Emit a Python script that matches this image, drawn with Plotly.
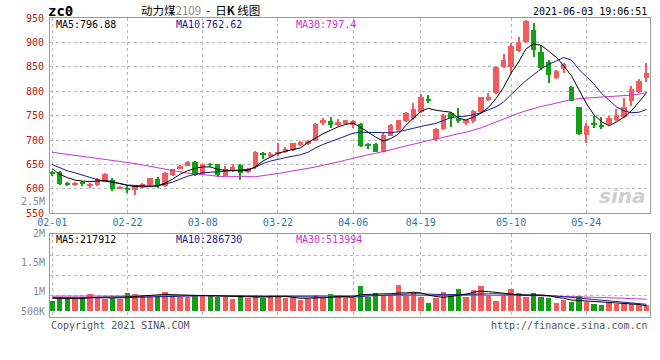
import plotly.graph_objects as go

# ---------------- data ----------------
tick_idx = [0, 10, 20, 30, 40, 49, 61, 71]
tick_labels = ["02-01", "02-22", "03-08", "03-22", "04-06", "04-19", "05-10", "05-24"]

opens = [633, 634, 610, 607, 613, 607, 608, 615, 619, 600,
         600, 598, 603, 607, 620, 605, 628, 642, 647, 656,
         631, 650, 650, 627, 639, 648, 635, 645, 674, 669,
         671, 675, 680, 690, 691, 699, 734, 739, 730, 733,
         731, 733, 690, 692, 676, 709, 721, 740, 745, 758,
         785, 702, 722, 755, 745, 734, 739, 757, 782, 797,
         849, 849, 883, 900, 926, 881, 859, 828, 846, 808,
         767, 711, 734, 729, 733, 741, 748, 781, 799, 828]
highs = [637, 636, 614, 614, 617, 612, 622, 632, 622, 606,
         605, 607, 613, 623, 624, 635, 641, 648, 657, 657,
         652, 653, 651, 647, 650, 652, 643, 677, 675, 676,
         695, 685, 694, 698, 700, 734, 745, 747, 744, 742,
         742, 735, 695, 693, 714, 733, 742, 758, 775, 795,
         792, 724, 753, 757, 765, 742, 762, 789, 797, 851,
         876, 898, 912, 946, 939, 894, 863, 844, 857, 810,
         768, 734, 750, 747, 750, 764, 786, 810, 826, 857]
lows = [627, 608, 606, 605, 605, 601, 606, 614, 595, 599,
        591, 587, 602, 606, 602, 604, 627, 640, 646, 627,
        630, 645, 625, 626, 634, 618, 633, 641, 662, 666,
        667, 673, 678, 688, 689, 698, 731, 724, 728, 731,
        724, 686, 682, 675, 675, 708, 719, 738, 742, 756,
        775, 699, 720, 727, 734, 731, 734, 755, 780, 795,
        847, 837, 881, 898, 871, 844, 816, 826, 837, 780,
        711, 695, 725, 723, 731, 739, 745, 770, 797, 818]
closes = [632, 610, 609, 612, 612, 611, 621, 631, 599, 604,
          599, 606, 611, 622, 606, 632, 640, 646, 655, 629,
          651, 649, 628, 640, 645, 632, 641, 675, 671, 671,
          676, 681, 693, 696, 698, 733, 741, 730, 736, 741,
          740, 688, 688, 676, 710, 731, 741, 755, 763, 788,
          782, 722, 751, 745, 739, 741, 760, 788, 789, 849,
          864, 893, 901, 944, 885, 847, 834, 842, 855, 781,
          712, 728, 732, 728, 746, 752, 767, 805, 820, 837]

ma5 = [641, 630, 623, 618, 616, 615, 616, 617, 615, 611,
       607, 605, 604, 605, 606, 612, 620, 630, 637, 642,
       645, 645, 640, 638, 637, 637, 638, 645, 657, 665,
       673, 677, 680, 684, 695, 704, 713, 720, 727, 732,
       735, 726, 716, 706, 698, 703, 712, 730, 745, 759,
       765, 761, 759, 757, 745, 741, 747, 755, 767, 785,
       808, 837, 860, 887, 897, 894, 882, 870, 852, 832,
       804, 775, 752, 738, 729, 737, 747, 760, 778, 796.88]
ma10 = [650, 643, 637, 633, 628, 623, 619, 616, 613, 610,
        608, 607, 606, 606, 606, 610, 614, 620, 626, 630,
        633, 634, 635, 637, 638, 639, 640, 644, 652, 657,
        661, 664, 667, 670, 675, 684, 691, 697, 702, 708,
        714, 716, 716, 715, 715, 715, 717, 720, 724, 728,
        731, 734, 740, 746, 748, 749, 752, 756, 762, 768,
        778, 794, 808, 822, 834, 846, 855, 862, 869, 864,
        845, 830, 815, 796, 781, 768, 760, 756, 757, 762.62]
ma30 = [675, 673, 671, 669, 667, 665, 663, 660, 658, 656,
        654, 652, 649, 646, 643, 640, 637, 634, 632, 631,
        629, 627, 626, 625, 625, 625, 625, 625, 627, 629,
        632, 634, 637, 639, 642, 645, 648, 651, 655, 659,
        663, 667, 670, 673, 676, 680, 684, 688, 692, 695,
        699, 702, 706, 709, 713, 716, 720, 725, 731, 737,
        743, 750, 755, 760, 765, 769, 772, 776, 780, 783,
        785, 786, 787, 787.5, 788, 789, 790, 792, 794, 797.4]

volumes = [450, 558, 527, 527, 630, 752, 603, 527, 558, 527,
           810, 752, 707, 675, 675, 842, 707, 603, 630, 707,
           707, 707, 630, 630, 513, 707, 558, 707, 555, 705,
           705, 555, 555, 480, 510, 705, 555, 750, 675, 555,
           555, 1110, 600, 780, 675, 675, 1155, 705, 855, 630,
           330, 555, 855, 750, 960, 630, 930, 1110, 660, 435,
           705, 960, 780, 630, 780, 600, 555, 330, 480, 405,
           660, 405, 300, 255, 405, 300, 300, 300, 255, 255]  # thousands
vol_ma5 = [560, 560, 550, 545, 540, 590, 610, 610, 610, 600,
           620, 640, 660, 690, 720, 735, 720, 700, 690, 690,
           680, 670, 670, 670, 640, 640, 610, 620, 610, 630,
           650, 650, 600, 560, 560, 570, 560, 600, 650, 650,
           620, 720, 740, 740, 760, 760, 800, 800, 830, 800,
           700, 640, 600, 640, 690, 740, 830, 880, 860, 820,
           780, 760, 710, 700, 710, 710, 680, 600, 560, 480,
           460, 440, 420, 400, 380, 340, 320, 300, 280, 217.912]
vol_ma10 = [590, 585, 580, 575, 570, 575, 580, 585, 580, 575,
            590, 600, 610, 630, 650, 660, 665, 670, 670, 670,
            680, 680, 680, 680, 680, 670, 660, 650, 640, 635,
            640, 640, 630, 620, 610, 600, 600, 600, 600, 610,
            610, 650, 660, 680, 700, 700, 720, 740, 760, 760,
            740, 730, 720, 720, 740, 740, 740, 760, 760, 760,
            750, 740, 740, 730, 720, 700, 680, 660, 630, 600,
            570, 540, 500, 460, 420, 390, 360, 330, 310, 286.73]
vol_ma30 = [655, 655, 655, 655, 655, 656, 657, 658, 658, 658,
            660, 662, 664, 665, 666, 667, 668, 668, 668, 668,
            668, 668, 668, 667, 666, 665, 664, 663, 662, 661,
            660, 660, 660, 660, 660, 660, 661, 662, 663, 664,
            665, 668, 670, 672, 674, 676, 678, 680, 682, 683,
            683, 683, 684, 685, 686, 688, 690, 692, 693, 693,
            692, 690, 688, 684, 680, 672, 664, 655, 645, 635,
            625, 612, 600, 590, 580, 570, 560, 545, 530, 513.994]

price_ticks = [550, 600, 650, 700, 750, 800, 850, 900, 950]
vol_tick_labels = ["2.5M", "2M", "1.5M", "1M", "500K"]

# ---------------- styling ----------------
W, H = 660, 360
RED = "#f25c5c"
GREEN = "#14a014"
MONO = "DejaVu Sans Mono, Liberation Mono, monospace"


def px_x(p):
    return p / W


def px_y(p):
    return 1 - p / H


x = list(range(len(closes)))
colors = [RED if c >= o else GREEN for o, c in zip(opens, closes)]
body_base = [min(o, c) for o, c in zip(opens, closes)]
body_len = [max(abs(c - o), 1.6) for o, c in zip(opens, closes)]
wick_len = [h - l for h, l in zip(highs, lows)]
vol_units = [v * 1000 for v in volumes]

fig = go.Figure()
# wicks
fig.add_trace(go.Bar(x=x, y=wick_len, base=lows, width=0.15,
                     marker=dict(color=colors, line=dict(width=0)),
                     xaxis="x", yaxis="y", hoverinfo="skip"))
# bodies
fig.add_trace(go.Bar(x=x, y=body_len, base=body_base, width=0.72,
                     marker=dict(color=colors, line=dict(width=0)),
                     xaxis="x", yaxis="y"))
for arr, col in [(ma30, "#cc33cc"), (ma10, "#1a1a90"), (ma5, "#000000")]:
    fig.add_trace(go.Scatter(x=x, y=arr, mode="lines",
                             line=dict(color=col, width=1),
                             xaxis="x", yaxis="y"))
# volume
fig.add_trace(go.Bar(x=x, y=vol_units, width=0.72,
                     marker=dict(color=colors, line=dict(width=0)),
                     xaxis="x2", yaxis="y2"))
for arr, col in [(vol_ma30, "#cc33cc"), (vol_ma10, "#1a1a90"), (vol_ma5, "#000000")]:
    fig.add_trace(go.Scatter(x=x, y=[v * 1000 for v in arr], mode="lines",
                             line=dict(color=col, width=1),
                             xaxis="x2", yaxis="y2"))

xdom = [50 / W, 649.5 / W]
price_dom = [px_y(213.3), px_y(18)]
vol_dom = [px_y(317.3), px_y(234)]
# volume scale: 0 at 310.7px, 45K per px
vol_range = [-(317.3 - 310.7) * 45000, (310.7 - 234) * 45000]
vol_grid = [(310.7 - y) * 45000 for y in (255.7, 275.7, 295.7)]

axis_common = dict(showline=True, linecolor="#9a9a9a", linewidth=1, mirror=True,
                   showgrid=True, gridcolor="#b8b8b8", griddash="dot", gridwidth=1,
                   zeroline=False, ticks="", automargin=False)

fig.update_layout(
    width=W, height=H, margin=dict(l=0, r=0, t=0, b=0, autoexpand=False),
    paper_bgcolor="white", plot_bgcolor="white",
    showlegend=False, barmode="overlay", bargap=0,
    xaxis=dict(domain=xdom, range=[-0.3, 79.4], anchor="y",
               tickmode="array", tickvals=tick_idx, ticktext=tick_labels,
               tickfont=dict(family=MONO, size=10, color="#1f78b4"),
               **axis_common),
    xaxis2=dict(domain=xdom, range=[-0.3, 79.4], anchor="y2", matches="x",
                tickmode="array", tickvals=tick_idx, showticklabels=False,
                **axis_common),
    yaxis=dict(domain=price_dom, range=[550, 950], anchor="x",
               tickmode="array", tickvals=price_ticks,
               ticktext=[str(v) for v in price_ticks],
               tickfont=dict(family=MONO, size=10, color="#b02020"),
               ticklabelstandoff=3, **axis_common),
    yaxis2=dict(domain=vol_dom, range=vol_range, anchor="x2",
                tickmode="array", tickvals=vol_grid, showticklabels=False,
                **axis_common),
)

ann = []


def text(xp, yp, s, color="#000", size=10, anchor="left", family=MONO, **kw):
    ann.append(dict(x=px_x(xp), y=px_y(yp), xref="paper", yref="paper",
                    text=s, showarrow=False, xanchor=anchor, yanchor="middle",
                    align=anchor if anchor in ("left", "right") else "center",
                    borderpad=0,
                    font=dict(family=family, size=size, color=color), **kw))


text(47, 10.5, "<b>zc0</b>", size=14)
text(140, 9.5, '动力煤<span style="color:#8a8a8a">2109</span>&nbsp; -&nbsp; 日<b>K</b> 线图',
     size=11.5, family="Noto Sans CJK SC")
text(648, 11.5, "2021-06-03 19:06:51", anchor="right")
text(55, 24.5, "MA5:796.88", color="#000000")
text(175, 24.5, "MA10:762.62", color="#1a1a90")
text(295, 24.5, "MA30:797.4", color="#cc33cc")
text(55, 239, "MA5:217912", color="#000000")
text(175, 239, "MA10:286730", color="#1a1a90")
text(295, 239, "MA30:513994", color="#cc33cc")
for lab, yp in zip(vol_tick_labels, [201, 233, 262, 291, 311]):
    text(46, yp, lab, color="#8a8a8a", anchor="right")
text(50, 325, "Copyright 2021 SINA.COM", color="#555555")
text(649, 325, "http://finance.sina.com.cn", color="#555555", anchor="right")
ann.append(dict(x=px_x(648), y=px_y(196), xref="paper", yref="paper", text="sina",
                showarrow=False, xanchor="right", yanchor="middle",
                font=dict(family="DejaVu Sans", size=20, color="#d0d0d0",
                          style="italic", weight="bold")))
fig.update_layout(annotations=ann)

fig.write_html("out.html",
               config={"displayModeBar": False},
               post_script="document.body.style.margin='0px';"
                           "document.body.style.overflow='hidden';")
